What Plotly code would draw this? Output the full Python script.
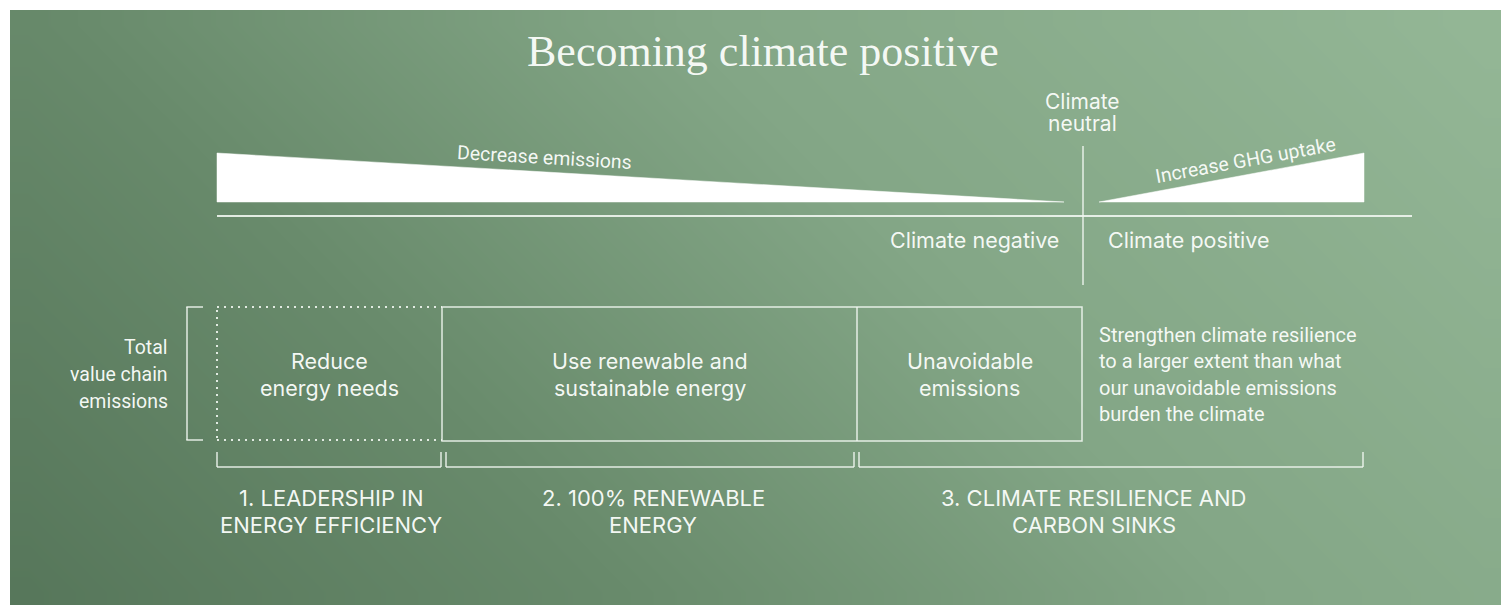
import numpy as np
import plotly.graph_objects as go

# ---------------- content ----------------
TITLE = "Becoming climate positive"
NEUTRAL_LABEL = ["Climate", "neutral"]
SIDE_LABELS = ["Climate negative", "Climate positive"]
WEDGE_LABELS = ["Decrease emissions", "Increase GHG uptake"]
TOTAL_LABEL = ["Total", "value chain", "emissions"]
BOX_LABELS = [["Reduce", "energy needs"],
              ["Use renewable and", "sustainable energy"],
              ["Unavoidable", "emissions"]]
RESILIENCE_TEXT = ["Strengthen climate resilience",
                   "to a larger extent than what",
                   "our unavoidable emissions",
                   "burden the climate"]
STEP_LABELS = [["1. LEADERSHIP IN", "ENERGY EFFICIENCY"],
               ["2. 100% RENEWABLE", "ENERGY"],
               ["3. CLIMATE RESILIENCE AND", "CARBON SINKS"]]

# ---------------- geometry (diagram units = page pixels) ----------------
W, H = 1501, 605
BG_X0, BG_Y0 = 10, 10
AXIS_Y = 216
AXIS_X = [217, 1412]
NEUTRAL_X = 1083
NEUTRAL_Y = [146, 285]
DEC_WEDGE = dict(x=[217, 1064, 217, 217], y=[153, 202, 202, 153])
INC_WEDGE = dict(x=[1099, 1364, 1364, 1099], y=[202, 153, 202, 202])
BOX_TOP, BOX_BOT = 307, 441
BOX_EDGES = [217, 442, 857, 1082]
BRACKETS = [(217, 441), (446, 854), (859, 1363)]
BRACKET_Y = [452, 467]

LINE_C = "rgba(240,246,240,0.9)"
TEXT_C = "rgba(248,251,248,0.97)"
SANS = "Inter, 'Open Sans', sans-serif"
COND = "Roboto, sans-serif"
SERIF = "'Liberation Serif', 'DejaVu Serif', serif"

fig = go.Figure()

# background gradient
nx, ny = 40, 20
xe = np.linspace(BG_X0, W + 2, nx + 1)
ye = np.linspace(BG_Y0, H + 2, ny + 1)
xc = (xe[:-1] + xe[1:]) / 2
yc = (ye[:-1] + ye[1:]) / 2
XF = (xc - BG_X0) / (W - BG_X0)
YF = (yc - BG_Y0) / (H - BG_Y0)
Z = np.clip(0.72 * XF[None, :] + 0.28 * (1 - YF[:, None]), 0, 1)
fig.add_trace(go.Heatmap(
    x=xe, y=ye, z=Z, zsmooth="best", showscale=False, hoverinfo="skip",
    zmin=0, zmax=1,
    colorscale=[[0, "rgb(86,118,90)"], [0.3, "rgb(104,138,107)"],
                [0.6, "rgb(131,166,134)"], [1, "rgb(148,183,150)"]]))

# wedges
for wd in (DEC_WEDGE, INC_WEDGE):
    fig.add_trace(go.Scatter(x=wd["x"], y=wd["y"], mode="lines", fill="toself",
                             fillcolor="white", line=dict(color="white", width=0.5),
                             hoverinfo="skip", showlegend=False))


def line(x0, y0, x1, y1, width=1.5, dash=None):
    fig.add_shape(type="line", x0=x0, y0=y0, x1=x1, y1=y1, xref="x", yref="y",
                  line=dict(color=LINE_C, width=width, dash=dash))


# axis + neutral line
line(AXIS_X[0], AXIS_Y, AXIS_X[1], AXIS_Y, width=2)
line(NEUTRAL_X, NEUTRAL_Y[0], NEUTRAL_X, NEUTRAL_Y[1], width=1.5)

# total bracket
line(187, BOX_TOP, 187, BOX_TOP + 133)
line(186.3, BOX_TOP, 203, BOX_TOP)
line(186.3, BOX_TOP + 133, 203, BOX_TOP + 133)

# dotted box
DOT = "2px,5px"
line(BOX_EDGES[0], BOX_TOP, BOX_EDGES[1], BOX_TOP, width=2, dash=DOT)
line(BOX_EDGES[0], BOX_BOT - 1, BOX_EDGES[1], BOX_BOT - 1, width=2, dash=DOT)
line(BOX_EDGES[0], BOX_TOP + 3, BOX_EDGES[0], BOX_BOT, width=2, dash=DOT)

# solid boxes
fig.add_shape(type="rect", x0=BOX_EDGES[1], x1=BOX_EDGES[3], y0=BOX_TOP, y1=BOX_BOT,
              line=dict(color=LINE_C, width=1.5))
line(BOX_EDGES[2], BOX_TOP, BOX_EDGES[2], BOX_BOT)

# step brackets
for a, b in BRACKETS:
    line(a, BRACKET_Y[0], a, BRACKET_Y[1])
    line(b, BRACKET_Y[0], b, BRACKET_Y[1])
    line(a, BRACKET_Y[1], b, BRACKET_Y[1])


def text_lines(lines, x, y0, dy, size, family=SANS, xanchor="center", color=TEXT_C):
    for i, t in enumerate(lines):
        fig.add_annotation(x=x, y=y0 + i * dy, text=t, showarrow=False,
                           xanchor=xanchor, yanchor="middle", xref="x", yref="y",
                           font=dict(family=family, size=size, color=color))


# title
text_lines([TITLE], 763, 51, 0, 44, family=SERIF)

# top labels
text_lines(NEUTRAL_LABEL, 1082, 101, 22, 21)
text_lines([SIDE_LABELS[0]], 1061, 240, 0, 21.5, xanchor="right")
text_lines([SIDE_LABELS[1]], 1106, 240, 0, 21.5, xanchor="left")

fig.add_annotation(x=544, y=157, text=WEDGE_LABELS[0], showarrow=False, textangle=3.3,
                   font=dict(family=COND, size=19.5, color=TEXT_C))
fig.add_annotation(x=1245, y=160, text=WEDGE_LABELS[1], showarrow=False, textangle=-10.3,
                   font=dict(family=COND, size=19.5, color=TEXT_C))

# bottom section text
text_lines(TOTAL_LABEL, 170, 347, 27, 19.5, family=COND, xanchor="right")
box_centers = [(BOX_EDGES[i] + BOX_EDGES[i + 1]) / 2 for i in range(3)]
for cx, lab in zip(box_centers, BOX_LABELS):
    text_lines(lab, cx, 361, 27, 21.5)
text_lines(RESILIENCE_TEXT, 1097, 335, 26.3, 20, family=COND, xanchor="left")
step_centers = [331, 653, 1094]
for cx, lab in zip(step_centers, STEP_LABELS):
    text_lines(lab, cx, 498, 27, 22)

fig.update_layout(
    width=W, height=H, margin=dict(l=0, r=0, t=0, b=0),
    paper_bgcolor="white", plot_bgcolor="white", showlegend=False,
    xaxis=dict(range=[0, W], visible=False, fixedrange=True),
    yaxis=dict(range=[H, 0], visible=False, fixedrange=True),
)
fig.write_html("out.html",
               config={"displayModeBar": False, "staticPlot": True},
               post_script="document.body.style.margin='0';"
                           "document.body.style.overflow='hidden';")
